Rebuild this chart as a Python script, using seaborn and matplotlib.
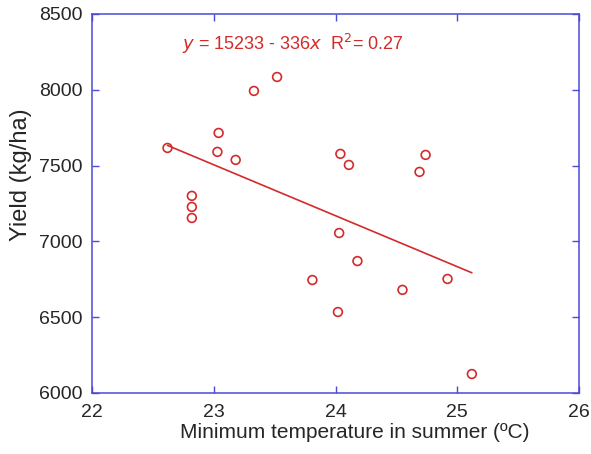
import numpy as np
import pandas as pd
import matplotlib.pyplot as plt
import seaborn as sb

# data
temp = [22.62, 22.82, 22.82, 22.82, 23.04, 23.03, 23.18, 23.33, 23.52, 23.81,
        24.04, 24.11, 24.03, 24.02, 24.18, 24.55, 24.69, 24.74, 24.92, 25.12]
yld = [7616, 7300, 7227, 7154, 7715, 7590, 7537, 7992, 8084, 6745,
       7577, 7504, 7055, 6534, 6870, 6680, 7458, 7570, 6752, 6125]
intercept = 15233
slope = -336
xticks = [22, 23, 24, 25, 26]
yticks = [6000, 6500, 7000, 7500, 8000, 8500]

df = pd.DataFrame({'temp': temp, 'yield': yld})
fit = pd.DataFrame({'temp': [min(temp), max(temp)]})
fit['yield'] = intercept + slope * fit['temp']

sb.set_style('ticks')
plt.rcParams['font.family'] = ['Liberation Sans', 'DejaVu Sans']

red = '#d42a2a'
blue = '#4a4ad6'

fig = plt.figure(figsize=(5.91, 4.54), dpi=100)
ax = fig.add_axes([0.1557, 0.1344, 0.824, 0.835])

sb.lineplot(data=fit, x='temp', y='yield', color=red, lw=1.2, ax=ax)
sb.scatterplot(data=df, x='temp', y='yield', marker='o', s=40,
               facecolor='none', edgecolor=red, linewidth=1.2, ax=ax)

ax.set_xlim(22, 26)
ax.set_ylim(6000, 8500)
ax.set_xticks(xticks)
ax.set_yticks(yticks)
ax.tick_params(direction='in', length=5, width=1, color=blue,
               top=True, right=True, labelsize=14)
ax.tick_params(axis='x', pad=8)
ax.tick_params(axis='y', pad=6.5)
for s in ax.spines.values():
    s.set_color(blue)
    s.set_linewidth(1.1)

ax.set_xlabel('Minimum temperature in summer (ºC)', fontsize=15, va='center')
ax.set_ylabel('Yield (kg/ha)', fontsize=17, va='center')
ax.xaxis.set_label_coords(0.54, -0.1055)
ax.yaxis.set_label_coords(-0.146, 0.575)

ax.text(22.74, 8305, r'$\it{y}$ = 15233 - 336$\it{x}$  R$^2$= 0.27',
        color=red, fontsize=13, va='center', ha='left')

fig.savefig('out.png', dpi=100)
